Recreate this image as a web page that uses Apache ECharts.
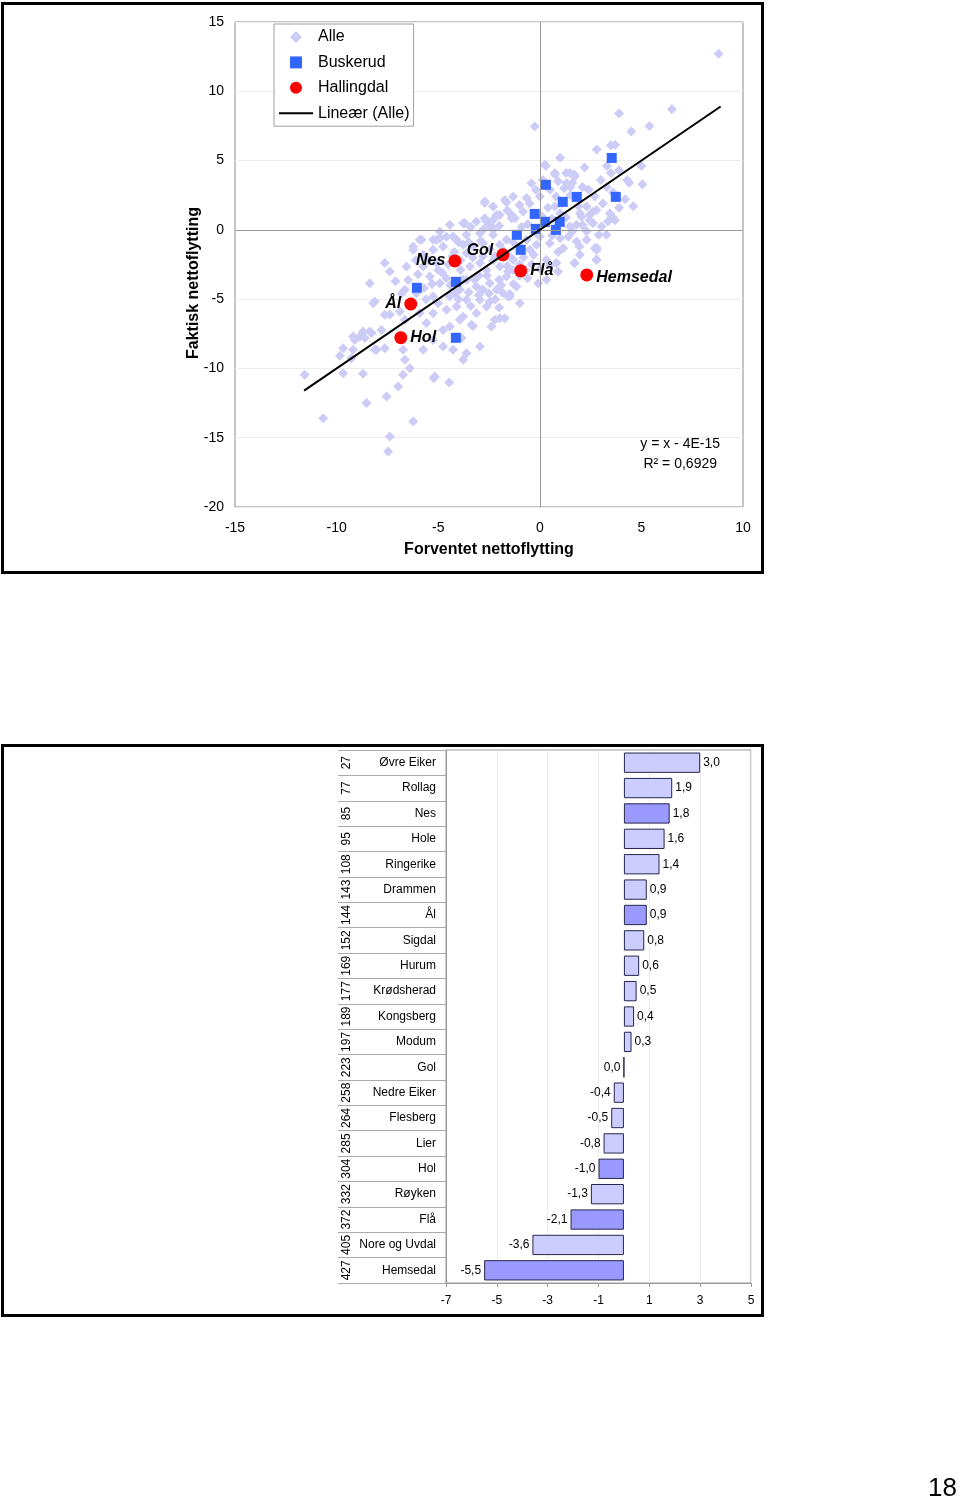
<!DOCTYPE html>
<html>
<head>
<meta charset="utf-8">
<script src="https://cdn.jsdelivr.net/npm/echarts@6/dist/echarts.min.js"></script>
<style>
html,body{margin:0;padding:0;background:#fff;}
#c{width:960px;height:1501px;}
</style>
</head>
<body>
<div id="c"></div>
<script>
// ---------- Scatter data ----------
const allePoints = [
  [8.8,12.7],[3.9,8.4],[6.5,8.7],[5.4,7.5],[4.5,7.1],[-0.25,7.45],[2.8,5.8],[3.5,6.1],[3.7,6.15],
  [1.0,5.2],[0.3,4.6],[5.0,4.6],[0.75,4.0],[1.3,4.1],[1.7,4.0],[3.5,4.1],[3.9,4.3],[3.3,4.6],
  [4.3,3.6],[4.4,3.4],[5.05,3.3],[1.6,3.4],[1.5,3.1],[3.3,3.1],[0.15,3.6],[0.5,2.9],[0.8,2.4],
  [4.6,1.7],[3.9,1.6],[4.2,2.2],[3.45,1.2],[3.55,0.95],[3.7,0.7],[3.35,0.6],[2.6,1.3],[2.05,0.95],
  [2.45,0.7],[2.1,0.35],[2.9,-0.35],[2.8,-1.3],[2.8,-1.45],[1.95,-1.2],[1.7,-2.4],[2.8,-2.15],
  [0.25,4.7],[0.74,4.1],[1.48,4.1],[1.72,3.85],[1.31,3.37],[-0.41,3.37],[0.0,2.4],[-0.65,2.29],
  [-1.31,2.4],[-1.72,2.16],[-2.71,2.04],[-2.3,1.68],[-2.13,1.08],[-2.71,0.84],[-1.23,0.84],
  [-0.82,1.32],[0.74,1.68],[2.3,1.68],[1.97,1.2],[2.46,1.08],[2.79,1.44],[2.62,0.48],[3.04,0.24],
  [3.28,-0.36],[1.48,0.24],[1.81,0.36],[1.81,-0.84],[2.3,-0.72],[2.71,-1.32],[1.97,-1.8],
  [0.0,-0.48],[-0.16,-1.08],[0.49,-0.96],[-0.65,-0.72],[-0.49,-1.44],[1.15,-1.32],[-1.97,-1.08],
  [-1.64,-0.72],[-2.3,-0.36],[-2.38,0.24],[-2.62,0.6],[-1.48,-1.93],[-1.31,-2.16],[-1.56,-3.0],
  [0.33,-2.16],[0.82,-2.4],[-0.08,-3.85],[0.33,-3.6],
  [-2.71,1.93],[-1.64,1.97],[-1.97,1.08],[-1.39,1.08],[-3.77,0.48],[-4.43,0.36],[-3.12,0.6],
  [-2.54,0.36],[-4.92,-0.12],[-5.91,-0.72],[-5.08,-0.72],[-4.27,-0.48],[-3.61,-0.36],[-2.95,-0.24],
  [-2.3,0.0],[-6.23,-1.44],[-5.74,-1.8],[-5.25,-1.44],[-4.76,-1.2],[-3.28,-1.2],[-2.79,-0.96],
  [-2.46,-1.44],[-3.61,-1.68],[-6.56,-2.65],[-5.74,-2.65],[-5.08,-2.4],[-3.44,-2.65],[-2.95,-2.4],
  [-2.62,-2.89],[-1.97,-2.65],[-1.64,-3.37],[-1.31,-2.89],[-6.48,-3.61],[-6.64,-4.33],[-5.41,-3.37],
  [-4.92,-3.85],[-3.61,-3.61],[-3.12,-4.09],[-2.46,-3.85],[-2.13,-4.33],[-5.25,-4.81],[-4.43,-4.81],
  [-3.94,-4.33],[-3.61,-5.05],[-2.95,-5.05],[-2.62,-5.53],[-5.25,-6.01],[-4.59,-5.77],[-4.1,-5.53],
  [-3.77,-6.25],[-3.12,-6.01],[-5.58,-6.73],[-3.36,-6.85],[-2.38,-6.98],[-1.97,-6.37],[-4.43,-6.98],
  [-3.85,-7.81],[-4.76,-8.42],[-3.61,-8.9],[-2.95,-8.42],[-0.98,-5.29],[-1.48,-4.81],[-1.15,-4.09],
  [-6.07,-4.57],[-6.4,-5.53],[-5.91,-6.01],
  [-7.63,-2.4],[-7.38,-3.0],[-8.37,-3.85],[-8.2,-5.29],[-6.89,-5.89],[-7.38,-6.13],[-8.86,-7.7],
  [-8.37,-7.34],[-8.61,-7.81],[-9.1,-7.94],[-7.79,-7.22],[-9.84,-9.09],[-9.27,-9.26],[-9.19,-8.66],
  [-9.68,-10.34],[-8.7,-10.39],[-11.57,-10.46],[-8.04,-8.66],[-7.63,-8.54],[-6.64,-9.38],[-6.4,-9.98],
  [-6.73,-10.46],[-5.22,-10.7],[-6.97,-11.31],[-7.54,-12.03],[-8.53,-12.5],[-10.66,-13.59],
  [-6.23,-13.83],[-7.38,-14.91],[-7.46,-16.0],[-5.17,-10.58],[-4.46,-11.02],[-3.28,-6.93],
  [-1.48,-4.62],[-2.21,-6.49],[-1.72,-6.37],[-8.12,-5.17],[-7.63,-6.13],[-6.64,-6.49],[-8.28,-7.45],
  [-8.7,-7.34],[-9.19,-7.7],[-9.68,-8.54],[-5.25,-7.94],[-5.74,-8.66],[-4.76,-7.22],[-4.27,-8.66],
  [-3.77,-9.38],[-3.94,-6.49],[-6.73,-8.66],[-8.12,-8.66],
  [-3.69,0.48],[-5.25,-0.72],[-4.92,-0.6],[-5.82,-0.72],[-6.23,-1.2],[-4.1,-0.72],[-3.77,-1.08],
  [-2.79,0.0],[-2.3,0.72],[-1.39,0.84],[1.72,-2.4],[2.79,-2.16],[-1.82,-4.55],[-1.57,-4.8],[-2.46,-5.17],
  [-3.3,-2.0],[-2.8,-1.9],[-2.2,-1.9],[-1.8,-1.5],[-1.0,-1.2],[-0.8,-2.0],[-0.4,-2.5],[-0.2,-0.2],
  [-1.1,-0.3],[-0.6,0.4],[0.3,0.5],[0.6,-0.4],[1.0,-0.6],[1.3,0.9],[-3.9,-2.9],[-4.5,-2.5],[-4.2,-1.6],
  [-3.0,-3.3],[-2.0,-3.6],[-1.0,-3.3],[-0.7,-2.9],[-2.5,-4.6],[-3.5,-4.5],[-4.8,-3.1],[-5.3,-3.9],
  [-4.0,-5.0],[-3.4,-5.5],[-1.6,-2.6],[-2.3,-2.2],[-1.3,-0.9],[0.1,1.0],[0.4,1.6],[1.1,1.9],[1.5,2.5],
  [2.4,2.9],[2.1,3.1],[-0.2,2.9],[-1.0,1.8],[-3.4,0.2],[-4.0,-0.9],[-4.6,-0.5],[-5.5,-2.2],[-6.0,-3.2],
  [-5.7,-4.2],[-5.0,-5.3],[-4.4,-4.0],[-3.8,-3.6],[-2.8,-4.3],[-2.0,-5.6],[-1.3,-3.9],[-0.3,-1.8],
  [0.9,-1.6],[0.5,-2.6],[1.4,-0.5],[2.3,-0.1],[3.6,2.7],[3.1,1.9],
  [1.2,3.0],[0.9,3.5],[2.7,2.4],[3.0,3.6],[2.2,4.5],[1.9,1.7],[1.0,1.2],[0.6,0.8],[1.6,-0.1],
  [-0.5,1.9],[-1.6,1.4],[-0.9,0.2],[-2.0,0.3],[-2.9,-0.8],[-3.5,-0.9],[-4.3,-1.9],[-3.9,-2.2],
  [-2.6,-3.3],[-1.9,-4.0],[-3.2,-3.6],[-4.6,-3.5],[-5.0,-2.9],[-4.2,-4.6],[-3.0,-4.7],[-2.2,-5.0],
  [-1.0,-2.5],[0.0,-2.8],[0.9,-3.0],[-0.6,-3.5],[-5.6,-5.0],[-6.8,-4.6],[-7.1,-3.7],[-6.1,-2.2]
];
const buskerudX = [3.54, 3.74, 0.30, 1.82, 1.13, -0.25, 0.25, 0.98, 0.79, -0.20, -1.13, -0.94, -4.13, -6.05, -4.13];
const buskerudY = [5.19, 2.38, 3.25, 2.38, 2.02, 1.15, 0.58, 0.58, 0.00, 0.07, -0.36, -1.44, -3.75, -4.18, -7.79];
const hallingdalNames = ['Nes', 'Gol', 'Flå', 'Hemsedal', 'Ål', 'Hol'];
const hallingdalX = [-4.18, -1.82, -0.94, 2.31, -6.35, -6.84];
const hallingdalY = [-2.24, -1.80, -2.96, -3.25, -5.35, -7.78];
const trendX = [-11.6, 8.9];
const trendY = [-11.6, 8.9];
const scatterXTicks = {min: -15, max: 10, interval: 5};
const scatterYTicks = {min: -20, max: 15, interval: 5};

// ---------- Bar data ----------
const barRanks = [27, 77, 85, 95, 108, 143, 144, 152, 169, 177, 189, 197, 223, 258, 264, 285, 304, 332, 372, 405, 427];
const barNames = ['Øvre Eiker', 'Rollag', 'Nes', 'Hole', 'Ringerike', 'Drammen', 'Ål', 'Sigdal', 'Hurum', 'Krødsherad',
  'Kongsberg', 'Modum', 'Gol', 'Nedre Eiker', 'Flesberg', 'Lier', 'Hol', 'Røyken', 'Flå', 'Nore og Uvdal', 'Hemsedal'];
const barValues = [3.0, 1.9, 1.8, 1.6, 1.4, 0.9, 0.9, 0.8, 0.6, 0.5, 0.4, 0.3, 0.0, -0.4, -0.5, -0.8, -1.0, -1.3, -2.1, -3.6, -5.5];
const barXTicks = {min: -7, max: 5, interval: 2};

// ---------- Build ----------
const FONT = 'Liberation Sans, Arial, sans-serif';
const labelPlacement = {
  'Nes': {position: 'left', offset: [0, 0]},
  'Gol': {position: 'left', offset: [0, -4]},
  'Flå': {position: 'right', offset: [0, 0]},
  'Hemsedal': {position: 'right', offset: [0, 3]},
  'Ål': {position: 'left', offset: [0, 0]},
  'Hol': {position: 'right', offset: [0, 0]}
};
const hallData = hallingdalNames.map((n, i) => ({
  name: n, value: [hallingdalX[i], hallingdalY[i]],
  label: Object.assign({show: true}, labelPlacement[n])
}));
const buskData = buskerudX.map((x, i) => [x, buskerudY[i]]);
const trendData = trendX.map((x, i) => [x, trendY[i]]);
const hallSet = new Set(hallingdalNames);
const fmt = v => v.toFixed(1).replace('.', ',');
const barData = barValues.map((v, i) => ({
  value: v,
  itemStyle: {color: hallSet.has(barNames[i]) ? '#9999ff' : '#ccccff'},
  label: {position: v > 0 ? 'right' : 'left'}
}));

const chart = echarts.init(document.getElementById('c'), null, {renderer: 'canvas'});
chart.setOption({
  animation: false,
  backgroundColor: '#fff',
  textStyle: {fontFamily: FONT},
  grid: [
    {left: 235, top: 22, width: 508, height: 485, show: true, borderColor: '#8c8c8c', borderWidth: 1, backgroundColor: 'transparent'},
    {left: 446, top: 750, width: 305, height: 533, show: true, borderColor: '#999', borderWidth: 1, backgroundColor: 'transparent'}
  ],
  legend: {
    left: 274, top: 24, orient: 'vertical', padding: [5, 4, 5, 4],
    itemWidth: 34, itemHeight: 12, itemGap: 9.4, symbolKeepAspect: true,
    backgroundColor: '#fff', borderColor: '#a0a0a0', borderWidth: 1,
    textStyle: {fontSize: 16, color: '#000', fontFamily: FONT},
    data: [
      {name: 'Alle', icon: 'path://M5,0 L10,5 L5,10 L0,5 Z'},
      {name: 'Buskerud', icon: 'path://M0,0 L10,0 L10,10 L0,10 Z'},
      {name: 'Hallingdal', icon: 'circle'},
      {name: 'Lineær (Alle)', itemStyle: {opacity: 0}}
    ]
  },
  xAxis: [
    {gridIndex: 0, type: 'value', min: scatterXTicks.min, max: scatterXTicks.max, interval: scatterXTicks.interval,
      axisLine: {show: false}, axisTick: {show: false}, splitLine: {show: false},
      axisLabel: {fontSize: 14, color: '#000', margin: 14}},
    {gridIndex: 1, type: 'value', min: barXTicks.min, max: barXTicks.max, interval: barXTicks.interval,
      axisLine: {show: true, lineStyle: {color: '#999'}}, axisTick: {show: true, length: 4, lineStyle: {color: '#999'}},
      splitLine: {show: true, lineStyle: {color: '#ececec'}},
      axisLabel: {fontSize: 12, color: '#000', margin: 12}}
  ],
  yAxis: [
    {gridIndex: 0, type: 'value', min: scatterYTicks.min, max: scatterYTicks.max, interval: scatterYTicks.interval,
      axisLine: {show: false}, axisTick: {show: false},
      splitLine: {show: true, lineStyle: {color: '#ececec'}},
      axisLabel: {fontSize: 14, color: '#000', margin: 11}},
    {gridIndex: 1, type: 'category', data: barNames, inverse: true,
      axisLine: {show: true, onZero: false, lineStyle: {color: '#999'}},
      axisTick: {show: true, length: 108, lineStyle: {color: '#aaa'}},
      axisLabel: {fontSize: 12, color: '#000', margin: 10, interval: 0}},
    {gridIndex: 1, type: 'category', data: barRanks.map(String), inverse: true, position: 'left',
      axisLine: {show: false, onZero: false}, axisTick: {show: false}, splitLine: {show: false},
      axisLabel: {fontSize: 12, color: '#000', rotate: 90, margin: 93, interval: 0}}
  ],
  series: [
    {name: 'Alle', type: 'scatter', xAxisIndex: 0, yAxisIndex: 0, symbol: 'diamond', symbolSize: 10, symbolKeepAspect: true,
      itemStyle: {color: '#ccccf7', opacity: 1}, data: allePoints, z: 2},
    {name: 'Buskerud', type: 'scatter', xAxisIndex: 0, yAxisIndex: 0, symbol: 'rect', symbolSize: 10, symbolKeepAspect: true,
      itemStyle: {color: '#3366ff', opacity: 1}, data: buskData, z: 3},
    {name: 'Hallingdal', type: 'scatter', xAxisIndex: 0, yAxisIndex: 0, symbol: 'circle', symbolSize: 13, symbolKeepAspect: true,
      itemStyle: {color: '#ff0000', opacity: 1}, data: hallData, z: 4,
      label: {show: true, formatter: p => p.name, fontSize: 16, fontWeight: 'bold', fontStyle: 'italic',
        color: '#000', distance: 3, fontFamily: FONT}},
    {name: 'Lineær (Alle)', type: 'line', xAxisIndex: 0, yAxisIndex: 0, symbol: 'none', data: trendData,
      lineStyle: {color: '#000', width: 2}, itemStyle: {color: '#000'}, z: 5,
      markLine: {silent: true, symbol: 'none', label: {show: false}, animation: false,
        lineStyle: {color: '#999', type: 'solid', width: 1},
        data: [{xAxis: 0}, {yAxis: 0}]}},
    {name: 'bars', type: 'bar', xAxisIndex: 1, yAxisIndex: 1, data: barData, barCategoryGap: '20%',
      itemStyle: {borderColor: '#26264d', borderWidth: 1},
      label: {show: true, formatter: p => fmt(p.value), fontSize: 12, color: '#000', distance: 3}}
  ],
  graphic: [
    {type: 'rect', shape: {x: 2.5, y: 3.5, width: 760, height: 569}, style: {fill: 'none', stroke: '#000', lineWidth: 3}, silent: true},
    {type: 'rect', shape: {x: 2.5, y: 745.5, width: 760, height: 570}, style: {fill: 'none', stroke: '#000', lineWidth: 3}, silent: true},
    {type: 'text', x: 194, y: 283, rotation: Math.PI / 2,
      style: {text: 'Faktisk nettoflytting', fontSize: 16, fontWeight: 'bold', fill: '#000', align: 'center', verticalAlign: 'middle', fontFamily: FONT}},
    {type: 'text', x: 489, y: 550,
      style: {text: 'Forventet nettoflytting', fontSize: 16, fontWeight: 'bold', fill: '#000', align: 'center', verticalAlign: 'middle', fontFamily: FONT}},
    {type: 'text', x: 720, y: 444,
      style: {text: 'y = x - 4E-15', fontSize: 14, fill: '#000', align: 'right', verticalAlign: 'middle', fontFamily: FONT}},
    {type: 'text', x: 717, y: 464,
      style: {text: 'R² = 0,6929', fontSize: 14, fill: '#000', align: 'right', verticalAlign: 'middle', fontFamily: FONT}},
    {type: 'text', x: 957, y: 1489,
      style: {text: '18', fontSize: 26, fill: '#000', align: 'right', verticalAlign: 'middle', fontFamily: FONT}}
  ]
});
</script>
</body>
</html>
